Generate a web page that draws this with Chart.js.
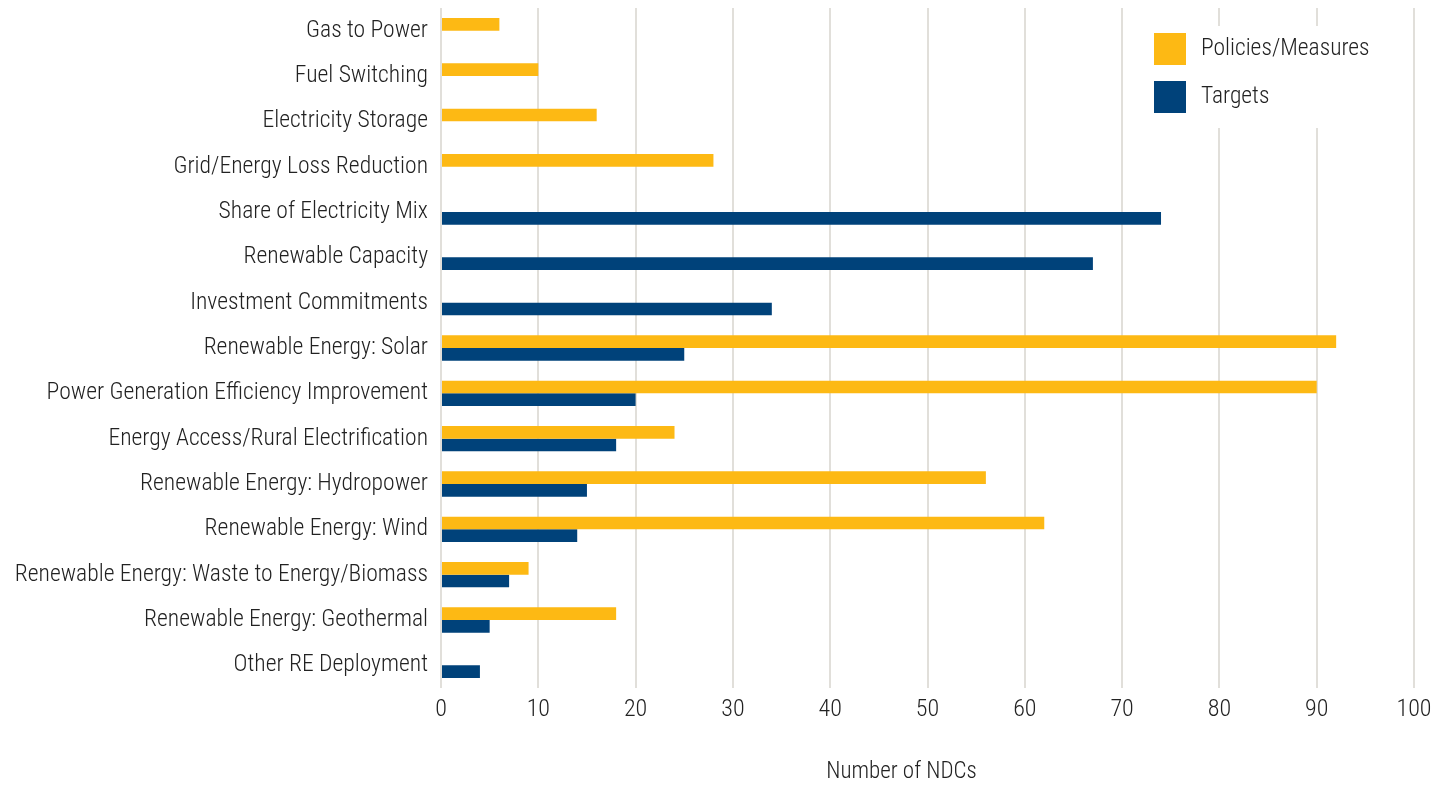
<!DOCTYPE html>
<html>
<head>
<meta charset="utf-8">
<script src="https://cdn.jsdelivr.net/npm/chart.js"></script>
<style>
  html, body { margin: 0; padding: 0; background: #fff; }
  #wrap { width: 1447px; height: 785px; }
</style>
</head>
<body>
<div id="wrap"><canvas id="grafico"></canvas></div>
<script>
// dados do grafico
const categorias = [
    'Gas to Power',
    'Fuel Switching',
    'Electricity Storage',
    'Grid/Energy Loss Reduction',
    'Share of Electricity Mix',
    'Renewable Capacity',
    'Investment Commitments',
    'Renewable Energy: Solar',
    'Power Generation Efficiency Improvement',
    'Energy Access/Rural Electrification',
    'Renewable Energy: Hydropower',
    'Renewable Energy: Wind',
    'Renewable Energy: Waste to Energy/Biomass',
    'Renewable Energy: Geothermal',
    'Other RE Deployment'
];
const politicas = [6, 10, 16, 28, null, null, null, 92, 90, 24, 56, 62, 9, 18, null];
const metas = [null, null, null, null, 74, 67, 34, 25, 20, 18, 15, 14, 7, 5, 4];
const ticksX = [0, 10, 20, 30, 40, 50, 60, 70, 80, 90, 100];

const fonte = "'Roboto Condensed', 'Liberation Sans Narrow', 'DejaVu Sans Condensed', sans-serif";
const corTexto = '#222222';

// legenda com fundo branco dentro da area do grafico + titulo do eixo x
const extras = {
    id: 'extras',
    afterDraw(chart) {
        const c = chart.ctx;
        const area = chart.chartArea;
        c.save();
        const lx = area.right - 274;
        const ly = area.top + 18;
        c.fillStyle = '#ffffff';
        c.fillRect(lx, ly, 258, 102);
        c.font = '300 23.5px ' + fonte;
        c.textBaseline = 'middle';
        chart.data.datasets.forEach((ds, i) => {
            const y = ly + 7 + i * 48;
            c.fillStyle = ds.backgroundColor;
            c.fillRect(lx + 14, y, 32, 32);
            c.fillStyle = corTexto;
            c.fillText(ds.label, lx + 61, y + 16);
        });
        // titulo do eixo
        c.textAlign = 'center';
        c.font = '300 23px ' + fonte;
        c.fillText('Number of NDCs', (area.left + area.right) / 2 - 26, 772);
        c.restore();
    }
};

const ctx = document.getElementById('grafico');

new Chart(ctx, {
    type: 'bar',
    data: {
        labels: categorias,
        datasets: [{
            label: 'Policies/Measures',
            data: politicas,
            backgroundColor: '#FDB914',
            categoryPercentage: 0.56,
            barPercentage: 1.0
        }, {
            label: 'Targets',
            data: metas,
            backgroundColor: '#00427A',
            categoryPercentage: 0.56,
            barPercentage: 1.0
        }]
    },
    options: {
        indexAxis: 'y',
        responsive: true,
        maintainAspectRatio: false,
        animation: false,
        layout: { padding: { top: 8, right: 33, bottom: 0, left: 0 } },
        scales: {
            x: {
                min: 0,
                max: 100,
                afterBuildTicks: (scale) => { scale.ticks = ticksX.map(v => ({ value: v })); },
                afterFit: (scale) => { scale.height = 97; },
                border: { display: false },
                grid: { color: '#e1dfda', lineWidth: 2, drawTicks: false },
                ticks: {
                    padding: 8,
                    color: corTexto,
                    font: { family: fonte, size: 24, weight: '300' }
                }
            },
            y: {
                afterFit: (scale) => {
                    scale.width = 441;
                    scale.paddingTop = 0; //tira o espaco extra em cima
                    scale.paddingBottom = 0;
                },
                border: { display: false },
                grid: { display: false, drawTicks: false },
                ticks: {
                    padding: 13,
                    color: corTexto,
                    font: { family: fonte, size: 23.6, weight: '300' }
                }
            }
        },
        plugins: {
            legend: { display: false },
            tooltip: { enabled: false }
        }
    },
    plugins: [extras]
});
</script>
</body>
</html>
